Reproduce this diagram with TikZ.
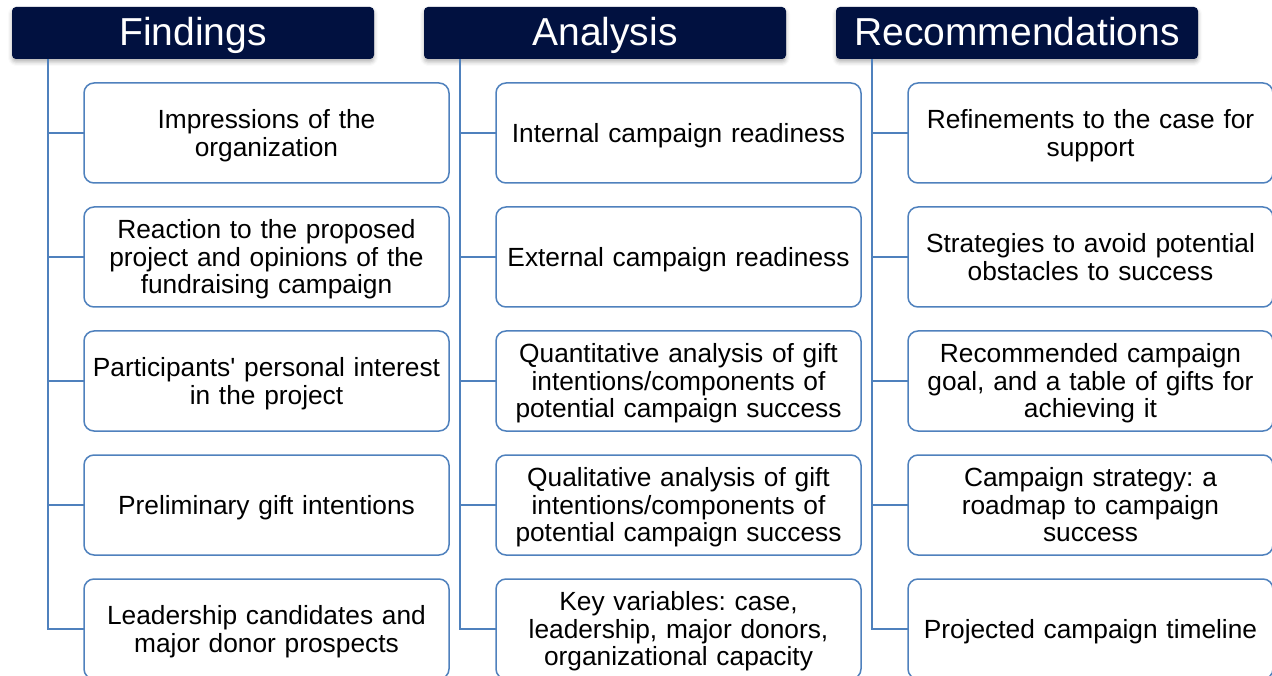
\documentclass[tikz,border=0pt]{standalone}
\usepackage{fontspec}
\setmainfont{Liberation Sans}
\usetikzlibrary{positioning,shadows.blur}
\frenchspacing

\definecolor{headnavy}{RGB}{1,17,64}
\definecolor{itemblue}{RGB}{79,129,189}

\tikzset{
  head/.style={fill=headnavy, text=white, rounded corners=4pt, inner sep=0pt, outer sep=0pt,
    minimum width=362pt, minimum height=52pt, text height=30pt, text depth=4pt,
    font=\fontsize{39}{39}\selectfont,
    blur shadow={shadow xshift=0pt, shadow yshift=-3pt, shadow blur radius=4pt, shadow opacity=30}},
  item/.style={draw=itemblue, line width=1.5pt, rounded corners=10pt, fill=white,
    minimum width=365pt, minimum height=100pt, text width=355pt, align=center,
    inner sep=0pt, outer sep=0pt, font=\fontsize{26.3}{27.8}\selectfont,
    execute at begin node={\rule{0pt}{0.905em}},
    execute at end node={\rule[-0.212em]{0pt}{0pt}}},
  branch/.style={draw=itemblue, line width=1.5pt}
}

\begin{document}
\begin{tikzpicture}
\useasboundingbox (0,0) rectangle (1272pt,-676pt);

\node[head, anchor=north west] (hf) at (12pt,-7pt) {Findings};
\node[head, right=50pt of hf] (ha) {Analysis};
\node[head, right=50pt of ha] (hr) {Recommendations};

\node[item, anchor=north west] (f1) at ([shift={(72pt,-24pt)}]hf.south west) {Impressions of the\\organization};
\node[item, below=24pt of f1] (f2) {Reaction to the proposed\\project and opinions of the\\fundraising campaign};
\node[item, below=24pt of f2] (f3) {Participants\textquotesingle{} personal interest\\in the project};
\node[item, below=24pt of f3] (f4) {Preliminary gift intentions};
\node[item, below=24pt of f4] (f5) {Leadership candidates and\\major donor prospects};

\node[item, anchor=north west] (a1) at ([shift={(72pt,-24pt)}]ha.south west) {Internal campaign readiness};
\node[item, below=24pt of a1] (a2) {External campaign readiness};
\node[item, below=24pt of a2] (a3) {Quantitative analysis of gift\\intentions/components of\\potential campaign success};
\node[item, below=24pt of a3] (a4) {Qualitative analysis of gift\\intentions/components of\\potential campaign success};
\node[item, below=24pt of a4] (a5) {Key variables: case,\\leadership, major donors,\\organizational capacity};

\node[item, anchor=north west] (r1) at ([shift={(72pt,-24pt)}]hr.south west) {Refinements to the case for\\support};
\node[item, below=24pt of r1] (r2) {Strategies to avoid potential\\obstacles to success};
\node[item, below=24pt of r2] (r3) {Recommended campaign\\goal, and a table of gifts for\\achieving it};
\node[item, below=24pt of r3] (r4) {Campaign strategy: a\\roadmap to campaign\\success};
\node[item, below=24pt of r4] (r5) {Projected campaign timeline};

% spines and branches
\foreach \h/\c in {hf/f, ha/a, hr/r} {
  \coordinate (\c s) at ([xshift=36pt]\h.south west);
  \draw[branch] (\c s) |- (\c5.west);
  \foreach \i in {1,...,4}
    \draw[branch] (\c s |- \c\i.west) -- (\c\i.west);
}
\end{tikzpicture}
\end{document}
